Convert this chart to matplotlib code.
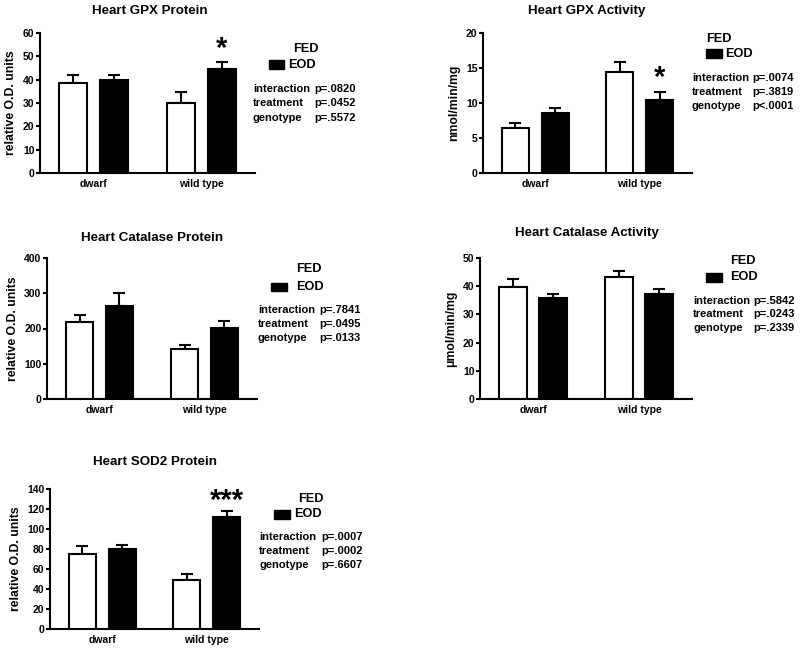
import numpy as np
import matplotlib
matplotlib.use('Agg')
from matplotlib import pyplot as plt
from matplotlib.patches import Rectangle

plt.rcParams['font.family'] = ['Liberation Sans', 'DejaVu Sans']
plt.rcParams['font.weight'] = 'bold'

genotypes = ['dwarf', 'wild type']

# heart GPX protein
gpx_prot_fed = [38.4, 29.9]
gpx_prot_fed_err = [3.7, 4.8]
gpx_prot_eod = [39.9, 44.4]
gpx_prot_eod_err = [2.2, 3.0]

# heart GPX activity
gpx_act_fed = [6.5, 14.4]
gpx_act_fed_err = [0.6, 1.4]
gpx_act_eod = [8.6, 10.5]
gpx_act_eod_err = [0.7, 1.1]

# heart catalase protein
cat_prot_fed = [218, 142]
cat_prot_fed_err = [19, 10]
cat_prot_eod = [264, 201]
cat_prot_eod_err = [36, 19]

# heart catalase activity
cat_act_fed = [39.7, 43.3]
cat_act_fed_err = [2.8, 2.2]
cat_act_eod = [35.9, 37.2]
cat_act_eod_err = [1.3, 1.9]

# heart SOD2 protein
sod_fed = [75.2, 48.6]
sod_fed_err = [7.9, 6.6]
sod_eod = [79.8, 112.0]
sod_eod_err = [4.7, 5.7]

stat_names = ['interaction', 'treatment', 'genotype']
gpx_prot_p = ['p=.0820', 'p=.0452', 'p=.5572']
gpx_act_p = ['p=.0074', 'p=.3819', 'p<.0001']
cat_prot_p = ['p=.7841', 'p=.0495', 'p=.0133']
cat_act_p = ['p=.5842', 'p=.0243', 'p=.2339']
sod_p = ['p=.0007', 'p=.0002', 'p=.6607']

W, H = 800, 648
fig = plt.figure(figsize=(8, 6.48), dpi=100)


def fx(px):
    return px / W


def fy(py):
    return 1 - py / H


def panel(box, title, title_xy, ylabel, yticks, fed, fed_err, eod, eod_err,
          pvals, leg, stats, star=None):
    left, top, right, bottom = box
    ax = fig.add_axes([fx(left), fy(bottom), fx(right - left), (bottom - top) / H])
    x = np.arange(len(genotypes))
    w = 0.26
    off = 0.19
    ax.bar(x - off, fed, w, color='white', edgecolor='black', linewidth=1.5, zorder=3)
    ax.bar(x + off, eod, w, color='black', edgecolor='black', linewidth=1.5, zorder=3)
    ax.errorbar(x - off, fed, yerr=[np.zeros(len(fed)), fed_err], fmt='none',
                ecolor='black', elinewidth=1.5, capsize=4.5, capthick=1.5, zorder=2)
    ax.errorbar(x + off, eod, yerr=[np.zeros(len(eod)), eod_err], fmt='none',
                ecolor='black', elinewidth=1.5, capsize=4.5, capthick=1.5, zorder=2)
    ax.set_xlim(-0.5, 1.5)
    ax.set_ylim(yticks[0], yticks[-1])
    ax.set_yticks(yticks)
    ax.set_xticks(x)
    ax.set_xticklabels(genotypes, fontsize=7.5, fontweight='bold')
    ax.tick_params(axis='x', length=0, pad=4)
    ax.tick_params(axis='y', length=3, width=1.5, labelsize=7.5, pad=1)
    for lab in ax.get_yticklabels():
        lab.set_fontweight('bold')
    ax.spines['top'].set_visible(False)
    ax.spines['right'].set_visible(False)
    ax.spines['left'].set_linewidth(1.5)
    ax.spines['bottom'].set_linewidth(1.5)
    ax.set_ylabel(ylabel, fontsize=8.8, fontweight='bold', labelpad=4)
    fig.text(fx(title_xy[0]), fy(title_xy[1]), title, fontsize=9.6, fontweight='bold',
             ha='center', va='center')
    # legend
    fed_x, fed_y, box_x0, box_x1, box_y0, box_y1, eod_x, eod_y = leg
    fig.text(fx(fed_x), fy(fed_y), 'FED', fontsize=9.2, va='center', ha='left')
    fig.add_artist(Rectangle((fx(box_x0), fy(box_y1)), fx(box_x1 - box_x0),
                             (box_y1 - box_y0) / H, facecolor='black',
                             edgecolor='black', transform=fig.transFigure))
    fig.text(fx(eod_x), fy(eod_y), 'EOD', fontsize=9.2, va='center', ha='left')
    # stats
    lx, px, rows = stats
    for name, p, ry in zip(stat_names, pvals, rows):
        fig.text(fx(lx), fy(ry), name, fontsize=8, va='center', ha='left')
        fig.text(fx(px), fy(ry), p, fontsize=8, va='center', ha='left')
    if star is not None:
        sx, sy, s = star
        ax.text(sx + off, sy, s, fontsize=21, ha='center', va='center')
    return ax


panel((40, 33, 255, 173), 'Heart GPX Protein', (150, 11), 'relative O.D. units',
      [0, 10, 20, 30, 40, 50, 60], gpx_prot_fed, gpx_prot_fed_err,
      gpx_prot_eod, gpx_prot_eod_err, gpx_prot_p,
      (293, 49, 269, 284, 60, 69, 288, 65), (253, 314, (89, 103, 118)),
      star=(1, 53, '*'))

panel((483, 33, 692, 173), 'Heart GPX Activity', (587, 11), 'nmol/min/mg',
      [0, 5, 10, 15, 20], gpx_act_fed, gpx_act_fed_err,
      gpx_act_eod, gpx_act_eod_err, gpx_act_p,
      (706, 39, 706, 722, 49, 58, 725, 54), (692, 752, (78, 92, 106)),
      star=(1, 13.6, '*'))

panel((47, 258, 257, 399), 'Heart Catalase Protein', (152, 238), 'relative O.D. units',
      [0, 100, 200, 300, 400], cat_prot_fed, cat_prot_fed_err,
      cat_prot_eod, cat_prot_eod_err, cat_prot_p,
      (296, 269, 271, 287, 283, 291, 296, 287), (258, 319, (310, 324, 338)))

panel((480, 258, 692, 399), 'Heart Catalase Activity', (587, 233), '\u03bcmol/min/mg',
      [0, 10, 20, 30, 40, 50], cat_act_fed, cat_act_fed_err,
      cat_act_eod, cat_act_eod_err, cat_act_p,
      (730, 261, 706, 722, 273, 282, 730, 277), (693, 753, (301, 314, 328)))

panel((50, 489, 259, 629), 'Heart SOD2 Protein', (155, 462), 'relative O.D. units',
      [0, 20, 40, 60, 80, 100, 120, 140], sod_fed, sod_fed_err,
      sod_eod, sod_eod_err, sod_p,
      (298, 499, 274, 290, 510, 519, 294, 514), (259, 321, (537, 551, 565)),
      star=(1, 128, '***'))

plt.savefig('out.png', dpi=100)
